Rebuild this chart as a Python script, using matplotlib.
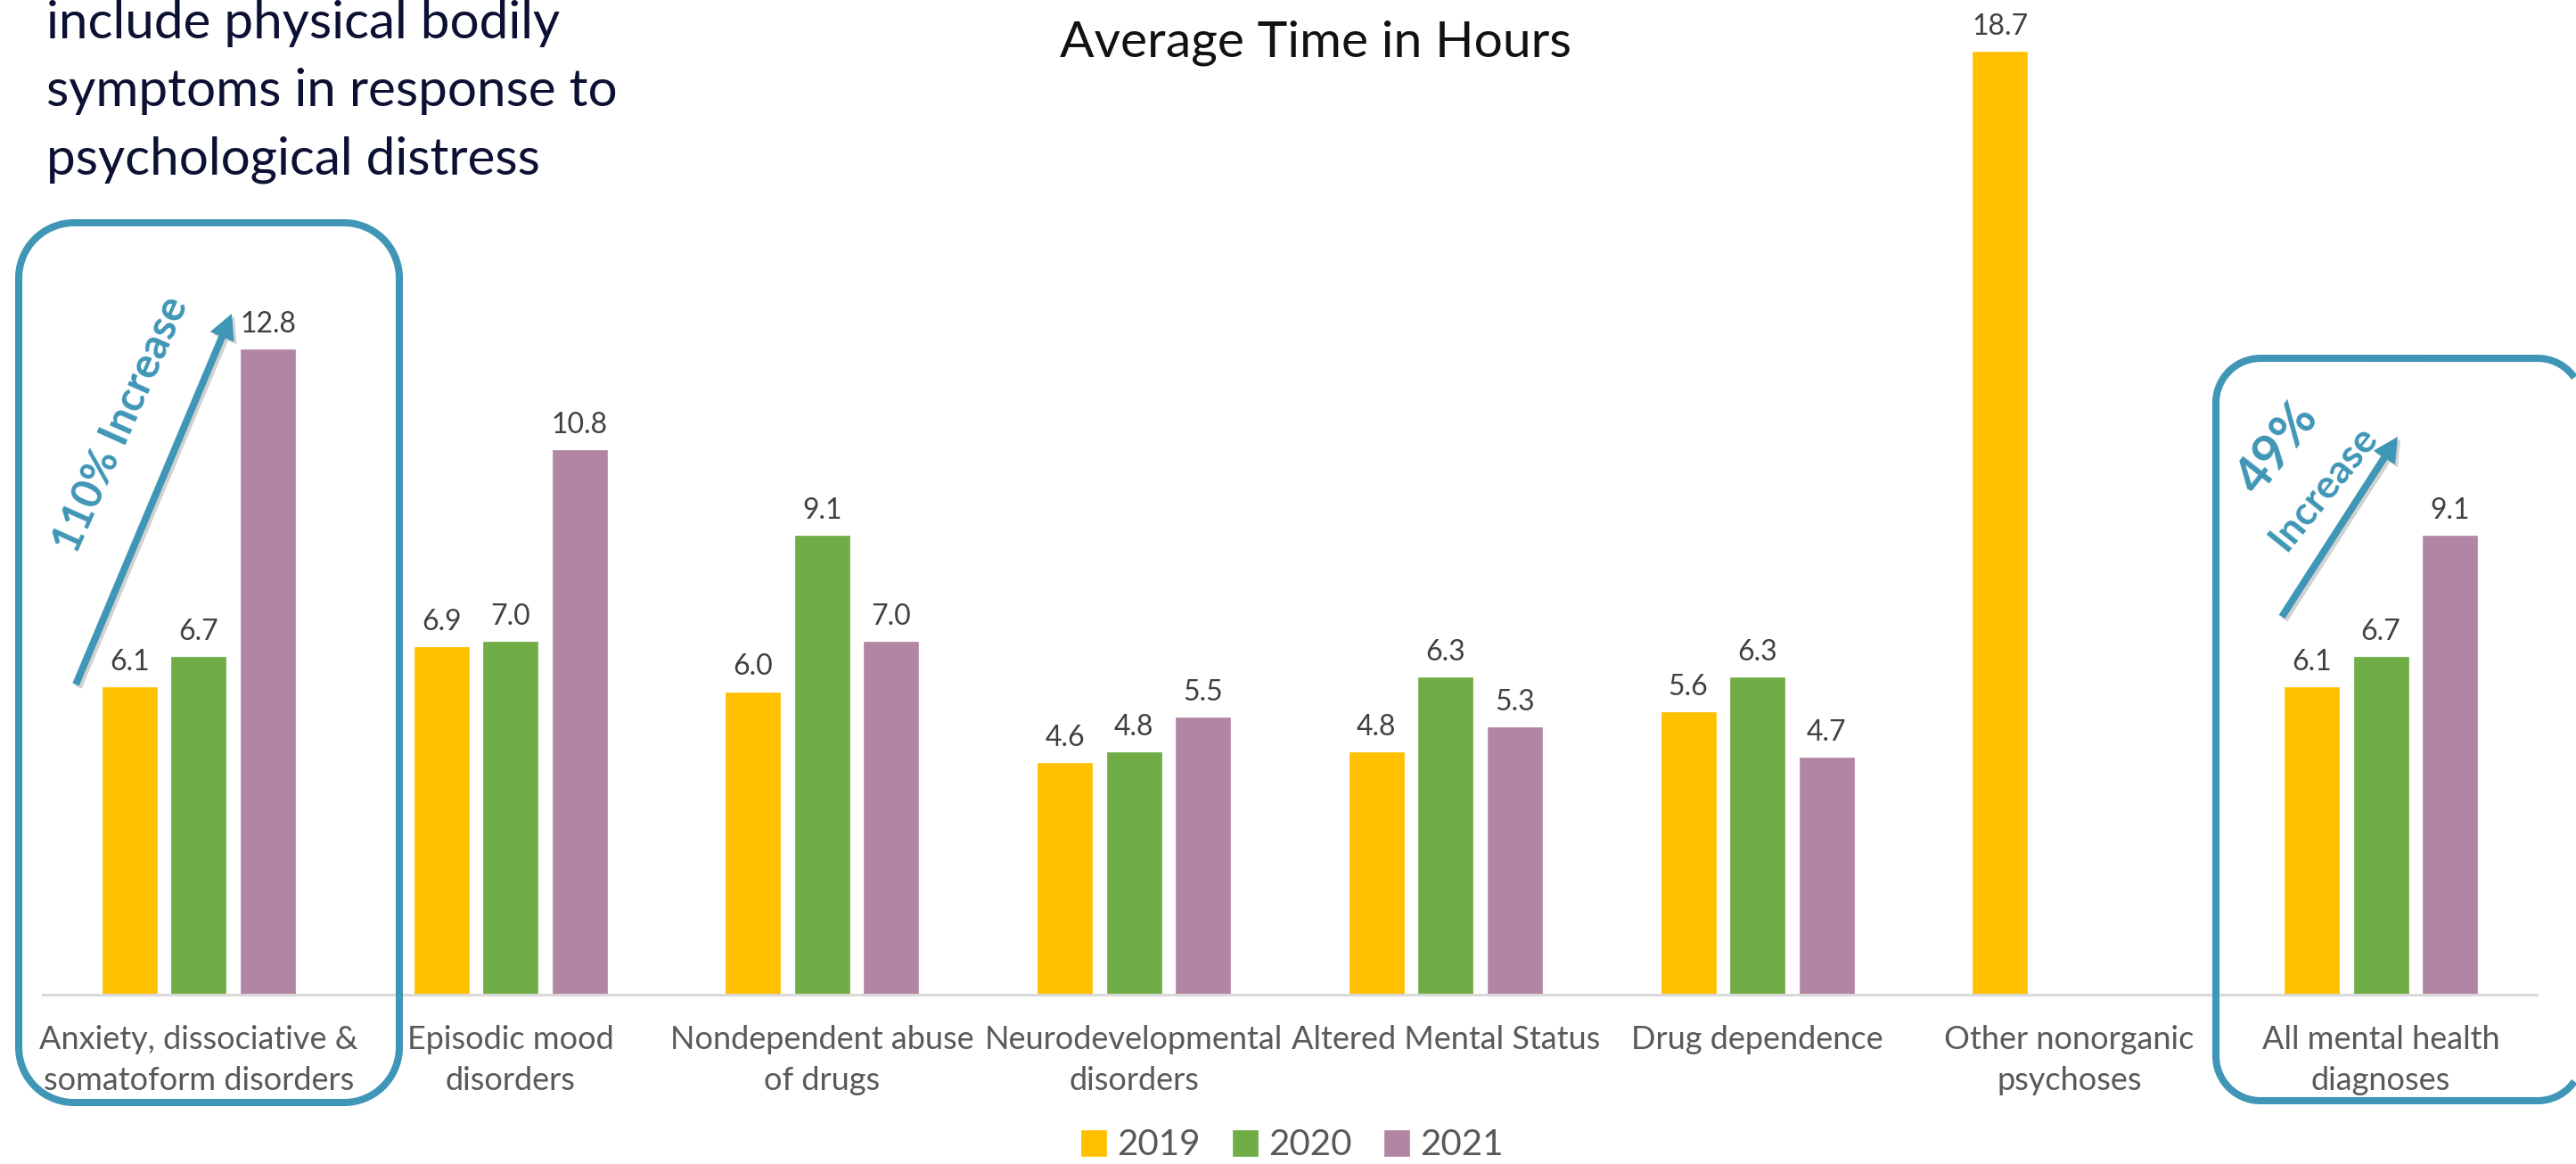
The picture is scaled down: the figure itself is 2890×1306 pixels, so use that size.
import matplotlib
matplotlib.use("Agg")
import matplotlib.pyplot as plt
import numpy as np
from matplotlib.patches import FancyArrow, Polygon
from matplotlib.transforms import Affine2D, blended_transform_factory

# ---------------- data ----------------
categories = [
    "Anxiety, dissociative &\nsomatoform disorders",
    "Episodic mood\ndisorders",
    "Nondependent abuse\nof drugs",
    "Neurodevelopmental\ndisorders",
    "Altered Mental Status",
    "Drug dependence",
    "Other nonorganic\npsychoses",
    "All mental health\ndiagnoses",
]
years = ["2019", "2020", "2021"]
v2019 = [6.1, 6.9, 6.0, 4.6, 4.8, 5.6, 18.7, 6.1]
v2020 = [6.7, 7.0, 9.1, 4.8, 6.3, 6.3, np.nan, 6.7]
v2021 = [12.8, 10.8, 7.0, 5.5, 5.3, 4.7, np.nan, 9.1]
title = "Average Time in Hours"
note_lines = ["include physical bodily", "symptoms in response to", "psychological distress"]
callout1 = "110% Increase"
callout2_pct = "49%"
callout2_word = "Increase"

# ---------------- style ----------------
plt.rcParams["font.family"] = ["Lato", "DejaVu Sans"]
colors = ["#FFC000", "#70AD47", "#B385A5"]
teal = "#4096B6"
W, H = 2890, 1306
fig = plt.figure(figsize=(W / 100, H / 100), dpi=100)
fig.patch.set_facecolor("white")
PX = Affine2D().scale(1, -1).translate(0, H)  # pixel coords, y from top

ax_left, ax_right, ax_base = 48, 2846, 1116
px_per_unit = 56.58
ax = fig.add_axes([ax_left / W, 1 - ax_base / H, (ax_right - ax_left) / W, ax_base / H])
ax.set_xlim(-0.5, len(categories) - 0.5)
ax.set_ylim(0, ax_base / px_per_unit)
ax.patch.set_alpha(0)

x = np.arange(len(categories))
step, bw = 0.2216, 0.175
series = [v2019, v2020, v2021]
handles = []
for k, (vals, c) in enumerate(zip(series, colors)):
    b = ax.bar(x + (k - 1) * step, vals, width=bw, color=c, edgecolor=c, linewidth=0.5, zorder=2)
    handles.append(b)
    for xi, v in zip(x, vals):
        if not np.isnan(v):
            ax.annotate(f"{v:.1f}", (xi + (k - 1) * step, v), xytext=(0, 13.7),
                        textcoords="offset points", ha="center", va="baseline",
                        fontsize=23, color="#404040")

for s in ["left", "right", "top"]:
    ax.spines[s].set_visible(False)
ax.spines["bottom"].set_color("#D9D9D9")
ax.spines["bottom"].set_linewidth(2.2)
ax.set_yticks([])
ax.set_xticks([])

# category labels (two lines each)
tr = blended_transform_factory(ax.transData, PX)
for xi, lab in zip(x, categories):
    for j, line in enumerate(lab.split("\n")):
        ax.text(xi, 1177 + 46 * j, line, transform=tr, ha="center", va="baseline",
                fontsize=26, color="#595959", clip_on=False)

# title and note
fig.text(1476, 63, title, transform=PX, ha="center", va="baseline", fontsize=41, color="#111111")
for j, line in enumerate(note_lines):
    fig.text(52, 43 + 76 * j, line, transform=PX, ha="left", va="baseline", fontsize=42,
             color="#0c1033")

# legend
ax.legend(handles, years, loc="center", bbox_to_anchor=(1450 / W, 1 - 1285 / H),
          bbox_transform=fig.transFigure, ncol=3, frameon=False, fontsize=29,
          handlelength=0.7, handleheight=0.7, handletextpad=0.3, columnspacing=0.9,
          labelcolor="#595959", borderpad=0, borderaxespad=0)


# rounded highlight boxes (outline polyline, cut at the right canvas edge)
def rounded_outline(x0, y0, x1, y1, r, n=40):
    ym = (y0 + y1) / 2
    pts = [(x1, ym)]
    for cx, cy, t0 in [(x1 - r, y1 - r, 0), (x0 + r, y1 - r, 0.5 * np.pi),
                       (x0 + r, y0 + r, np.pi), (x1 - r, y0 + r, 1.5 * np.pi)]:
        t = np.linspace(t0, t0 + 0.5 * np.pi, n)
        pts += list(zip(cx + r * np.cos(t), cy + r * np.sin(t)))
    pts.append((x1, ym))
    return pts


for (x0, y0, x1, y1, r) in [(21, 250, 448, 1237, 62), (2486, 402, 2897, 1235, 50)]:
    pts = rounded_outline(x0, y0, x1, y1, r)
    closed = x1 < W
    if not closed:
        pts = [p for p in pts if p[0] <= W - 1]
    fig.add_artist(Polygon(pts, closed=closed, transform=PX, fill=False, edgecolor=teal,
                           linewidth=5.8, joinstyle="round", capstyle="butt", zorder=5))


# arrows
def arrow(x0, y0, x1, y1):
    for off, col, a in [((3, 3), "#000000", 0.18), ((0, 0), teal, 1.0)]:
        fig.add_artist(FancyArrow(x0 + off[0], y0 + off[1], x1 - x0, y1 - y0, width=8,
                                  head_width=29, head_length=28, length_includes_head=True,
                                  transform=PX, color=col, alpha=a, linewidth=0, zorder=5))


arrow(85, 768, 260, 352)
arrow(2560, 692, 2690, 490)

fig.text(136, 476, callout1, transform=PX, rotation=66, rotation_mode="anchor",
         ha="center", va="center", fontsize=34, fontweight="bold", color=teal, zorder=6)
fig.text(2556, 503, callout2_pct, transform=PX, rotation=52, rotation_mode="anchor",
         ha="center", va="center", fontsize=41, fontweight="bold", color=teal, zorder=6)
fig.text(2607, 547, callout2_word, transform=PX, rotation=51, rotation_mode="anchor",
         ha="center", va="center", fontsize=32, fontweight="bold", color=teal, zorder=6)

fig.savefig("out.png", dpi=100)
